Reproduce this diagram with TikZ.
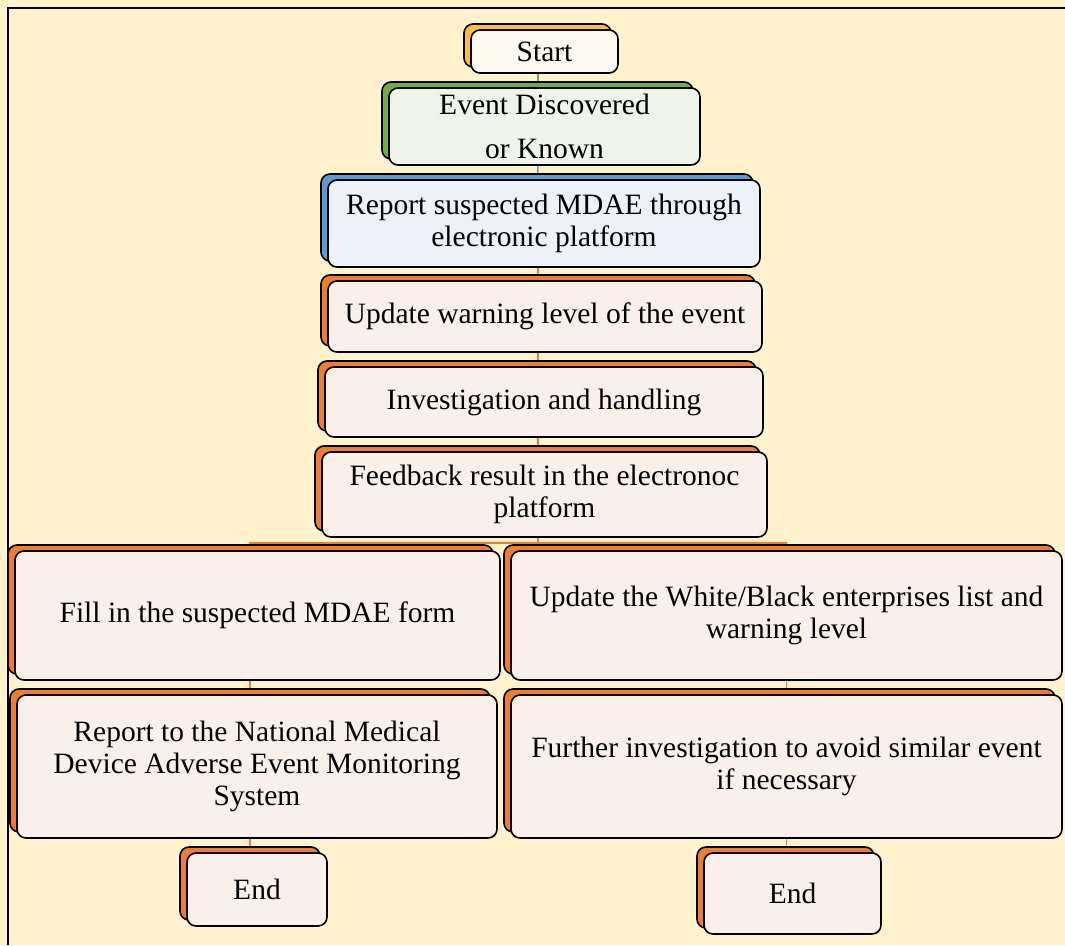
\documentclass[tikz,border=0pt]{standalone}
\usepackage{fontspec}
\setmainfont{Liberation Serif}
\usetikzlibrary{shadows,backgrounds}
\definecolor{paper}{HTML}{FFF2CC}
\definecolor{goldback}{HTML}{F7BE3F}
\definecolor{greenback}{HTML}{70AD47}
\definecolor{blueback}{HTML}{5B9BD5}
\definecolor{orangeback}{HTML}{ED7D31}
\colorlet{peachback}{orangeback}
\definecolor{goldfill}{HTML}{FFFAF0}
\definecolor{greenfill}{HTML}{EFF4EA}
\definecolor{bluefill}{HTML}{EDF2FA}
\definecolor{peachfill}{HTML}{FBEFEA}
\begin{document}
\begin{tikzpicture}[x=1pt,y=-1pt,
    box/.style={draw=black,line width=1.6pt,rounded corners=9pt,align=center,
      inner sep=0pt,font=\fontsize{29.5}{32}\selectfont},
    backed/.style={box,fill=#1fill,general shadow={shadow xshift=-7pt,
      shadow yshift=6pt,fill=#1back,draw=black,line width=1.6pt}},
    link/.style={line width=1.6pt,draw=#1back}]
        \useasboundingbox (0,0) rectangle (1065,945);
        % main column
        \node[backed=gold,minimum width=147pt,minimum height=43pt] (start) at (544.5,51.5) {Start};
        \node[backed=green,minimum width=311pt,minimum height=77pt,font=\fontsize{29.5}{44}\selectfont] (event) at (544.5,126.5) {Event Discovered\\or Known};
        \node[backed=blue,minimum width=432pt,minimum height=87pt] (report) at (544,223.5) {Report suspected MDAE through\\electronic platform};
        \node[backed=peach,minimum width=434pt,minimum height=71pt] (update) at (545,316.5) {Update warning level of the event};
        \node[backed=peach,minimum width=438pt,minimum height=70pt] (invest) at (544,402) {Investigation and handling};
        \node[backed=peach,minimum width=445pt,minimum height=85pt] (feedback) at (544.5,494.5) {Feedback result in the electronoc\\platform};
        \coordinate (split) at (538,543);
        % left branch
        \node[backed=peach,minimum width=485pt,minimum height=129pt] (fill) at (257.5,615.5) {Fill in the suspected MDAE form};
        \node[backed=peach,minimum width=480pt,minimum height=143pt] (national) at (257,766.5) {Report to the National Medical\\Device Adverse Event Monitoring\\System};
        \node[backed=peach,minimum width=140pt,minimum height=73pt] (endl) at (257,889.5) {End};
        % right branch
        \node[backed=peach,minimum width=551pt,minimum height=129pt] (list) at (786.5,615.5) {Update the White/Black enterprises list and\\warning level};
        \node[backed=peach,minimum width=551pt,minimum height=143pt] (further) at (786.5,766.5) {Further investigation to avoid similar event\\if necessary};
        \node[backed=peach,minimum width=177pt,minimum height=81pt] (endr) at (792.5,893.5) {End};
        \begin{scope}[on background layer]
            \fill[paper] (0,0) rectangle (1065,945);
            \draw[line width=2pt] (8,945) -- (8,8) -- (1065,8);
            \draw[link=green] ([xshift=-6.5pt]start.south) -- ([xshift=-6.5pt]event.north);
            \draw[link=blue] ([xshift=-6.5pt]event.south) -- ([xshift=-6.5pt]report.north);
            \draw[link=orange] ([xshift=-6pt]report.south) -- ([xshift=-7pt]update.north);
            \draw[link=orange] ([xshift=-7pt]update.south) -- ([xshift=-6pt]invest.north);
            \draw[link=orange] ([xshift=-6pt]invest.south) -- ([xshift=-6.5pt]feedback.north);
            \draw[link=orange] ([xshift=-6.5pt]feedback.south) -- (split);
            \draw[link=orange] ([xshift=-7.5pt]fill.north) |- (split) -| (list.north);
            \draw[link=orange] ([xshift=-7.5pt]fill.south) -- ([xshift=-7pt]national.north);
            \draw[link=orange] ([xshift=-7pt]national.south) -- ([xshift=-7pt]endl.north);
            \draw[link=orange] (list.south) -- (further.north);
            \draw[link=orange] (further.south) -- ([xshift=-6pt]endr.north);
        \end{scope}
    \end{tikzpicture}
\end{document}
